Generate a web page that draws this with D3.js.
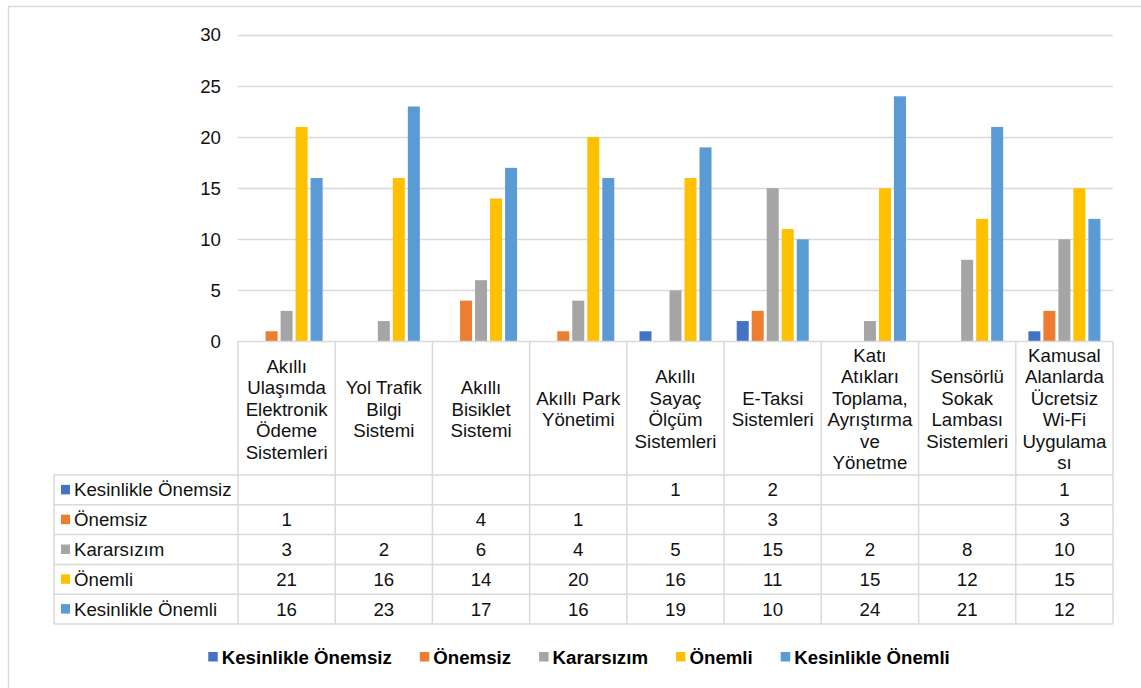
<!DOCTYPE html>
<html>
<head>
<meta charset="utf-8">
<script src="https://cdn.jsdelivr.net/npm/d3@7"></script>
<style>
  html, body { margin: 0; padding: 0; background: #fff; }
  svg { display: block; font-family: "Liberation Sans", Arial, sans-serif; }
</style>
</head>
<body>
<svg id="chart" width="1141" height="688"></svg>
<script>
// Category labels (pre-wrapped into lines as shown in the table header)
const categories = [
  ["Akıllı", "Ulaşımda", "Elektronik", "Ödeme", "Sistemleri"],
  ["Yol Trafik", "Bilgi", "Sistemi"],
  ["Akıllı", "Bisiklet", "Sistemi"],
  ["Akıllı Park", "Yönetimi"],
  ["Akıllı", "Sayaç", "Ölçüm", "Sistemleri"],
  ["E-Taksi", "Sistemleri"],
  ["Katı", "Atıkları", "Toplama,", "Ayrıştırma", "ve", "Yönetme"],
  ["Sensörlü", "Sokak", "Lambası", "Sistemleri"],
  ["Kamusal", "Alanlarda", "Ücretsiz", "Wi-Fi", "Uygulama", "sı"]
];

// Series names and colours
const seriesNames = ["Kesinlikle Önemsiz", "Önemsiz", "Kararsızım", "Önemli", "Kesinlikle Önemli"];
const seriesColors = ["#4472C4", "#ED7D31", "#A5A5A5", "#FFC000", "#5B9BD5"];

// Values per series (null = empty cell)
const kesinlikleOnemsiz = [null, null, null, null, 1, 2, null, null, 1];
const onemsiz           = [1, null, 4, 1, null, 3, null, null, 3];
const kararsizim        = [3, 2, 6, 4, 5, 15, 2, 8, 10];
const onemli            = [21, 16, 14, 20, 16, 11, 15, 12, 15];
const kesinlikleOnemli  = [16, 23, 17, 16, 19, 10, 24, 21, 12];

const yTicks = [0, 5, 10, 15, 20, 25, 30];

const seriesValues = [kesinlikleOnemsiz, onemsiz, kararsizim, onemli, kesinlikleOnemli];

const svg = d3.select("#chart");
const FONT = 18.67;
const GRID = "#d9d9d9";
const TEXT = "#111";

// Outer chart frame
svg.append("rect")
  .attr("x", 8.5).attr("y", 6.5)
  .attr("width", 1142).attr("height", 690)
  .attr("fill", "none").attr("stroke", GRID).attr("stroke-width", 1.5);

// Geometry
const plotLeft = 238, plotRight = 1113;
const tableLeft = 54;
const headerBottom = 475;
const rowH = 29.8;

const x = d3.scaleBand()
  .domain(d3.range(categories.length))
  .range([plotLeft, plotRight])
  .padding(0);

const xs = d3.scaleBand()
  .domain(d3.range(seriesNames.length))
  .range([0, x.bandwidth()])
  .paddingInner(0.2)
  .paddingOuter(0.84);

const y = d3.scaleLinear().domain([0, 30]).range([341.5, 35]);

// Gridlines and y tick labels
const yAxis = d3.axisLeft(y).tickValues(yTicks).tickSize(0).tickPadding(17);
const gAxis = svg.append("g").attr("transform", `translate(${plotLeft},0)`).call(yAxis);
gAxis.select(".domain").remove();
gAxis.selectAll("text")
  .attr("font-size", FONT).attr("font-family", "Liberation Sans, Arial, sans-serif")
  .attr("fill", TEXT);

svg.append("g").selectAll("line")
  .data(yTicks.filter(t => t !== 0))
  .join("line")
  .attr("x1", plotLeft).attr("x2", plotRight)
  .attr("y1", d => Math.round(y(d)) + 0.5).attr("y2", d => Math.round(y(d)) + 0.5)
  .attr("stroke", GRID).attr("stroke-width", 1.5);

// Bars
const barData = [];
seriesValues.forEach((vals, s) => {
  vals.forEach((v, c) => { if (v != null) barData.push({ s, c, v }); });
});
svg.append("g").selectAll("rect")
  .data(barData)
  .join("rect")
  .attr("x", d => x(d.c) + xs(d.s))
  .attr("width", xs.bandwidth())
  .attr("y", d => y(d.v))
  .attr("height", d => y(0) - y(d.v))
  .attr("fill", d => seriesColors[d.s]);

// Data table
const tableBottom = headerBottom + rowH * seriesNames.length;
const tbl = svg.append("g").attr("stroke", GRID).attr("stroke-width", 1.5).attr("fill", "none");

// horizontal axis line / header top
tbl.append("line").attr("x1", plotLeft).attr("x2", plotRight).attr("y1", y(0)).attr("y2", y(0));
// row lines
d3.range(seriesNames.length + 1).forEach(i => {
  const yy = headerBottom + i * rowH;
  tbl.append("line").attr("x1", tableLeft).attr("x2", plotRight).attr("y1", yy).attr("y2", yy);
});
// vertical lines between categories
d3.range(categories.length + 1).forEach(i => {
  const xx = plotLeft + i * x.bandwidth();
  tbl.append("line").attr("x1", xx).attr("x2", xx).attr("y1", y(0)).attr("y2", tableBottom);
});
// left edge of series label column
tbl.append("line").attr("x1", tableLeft).attr("x2", tableLeft).attr("y1", headerBottom).attr("y2", tableBottom);

// Header labels
const lineH = 21.5;
const headerMid = 409;
categories.forEach((lines, c) => {
  const cx = x(c) + x.bandwidth() / 2;
  const top = headerMid - (lines.length - 1) * lineH / 2;
  svg.append("g").selectAll("text")
    .data(lines)
    .join("text")
    .attr("x", cx)
    .attr("y", (d, i) => top + i * lineH)
    .attr("dy", "0.35em")
    .attr("text-anchor", "middle")
    .attr("font-size", FONT)
    .attr("fill", TEXT)
    .text(d => d);
});

// Row labels with colour keys
seriesNames.forEach((name, s) => {
  const cy = headerBottom + s * rowH + rowH / 2;
  svg.append("rect")
    .attr("x", 61).attr("y", cy - 5).attr("width", 9).attr("height", 9.5)
    .attr("fill", seriesColors[s]);
  svg.append("text")
    .attr("x", 74).attr("y", cy).attr("dy", "0.35em")
    .attr("font-size", FONT).attr("fill", TEXT)
    .text(name);
  seriesValues[s].forEach((v, c) => {
    if (v == null) return;
    svg.append("text")
      .attr("x", x(c) + x.bandwidth() / 2).attr("y", cy).attr("dy", "0.35em")
      .attr("text-anchor", "middle")
      .attr("font-size", FONT).attr("fill", TEXT)
      .text(v);
  });
});

// Legend
const legend = svg.append("g");
const legY = 657;
const items = legend.selectAll("g")
  .data(seriesNames)
  .join("g");
items.append("rect")
  .attr("y", legY - 5).attr("width", 9.5).attr("height", 9.5)
  .attr("fill", (d, i) => seriesColors[i]);
items.append("text")
  .attr("x", 13.5).attr("y", legY).attr("dy", "0.35em")
  .attr("font-size", FONT).attr("font-weight", "bold").attr("fill", "#000")
  .text(d => d);
let widths = [];
items.each(function () {
  widths.push(13.5 + d3.select(this).select("text").node().getComputedTextLength());
});
const gap = 28;
const total = d3.sum(widths) + gap * (widths.length - 1);
let cursor = 579 - total / 2;
items.attr("transform", (d, i) => {
  const t = `translate(${cursor},0)`;
  cursor += widths[i] + gap;
  return t;
});
</script>
</body>
</html>
